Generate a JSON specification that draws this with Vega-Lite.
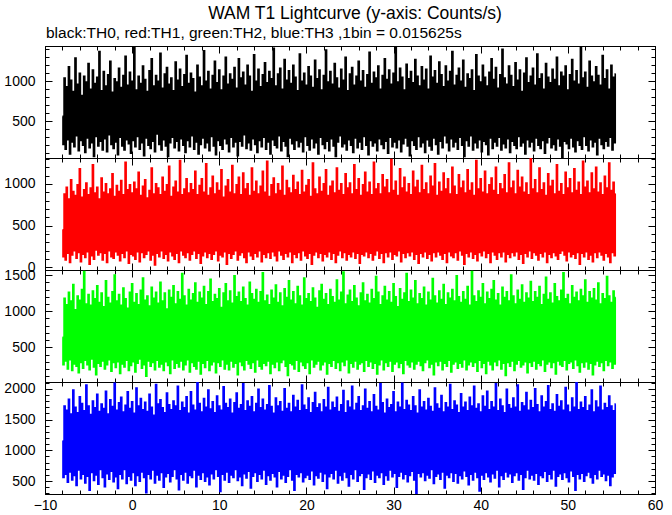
{
"$schema": "https://vega.github.io/schema/vega-lite/v6.json",
"background": "white",
"padding": {"left": 3, "top": 4, "right": 8, "bottom": 0},
"title": {"text": "WAM T1 Lightcurve (y-axis: Counts/s)", "anchor": "middle", "frame": "group", "dx": 5, "fontSize": 17.5, "fontWeight": "normal", "font": "Liberation Sans", "color": "#000000", "offset": 3},
"spacing": 0,
"bounds": "flush",
"datasets": {"lc": [
{"t":-8,"a":560,"b":450,"c":640,"d":1150},
{"t":-7.875,"a":210,"b":130,"c":260,"d":560},
{"t":-7.75,"a":1040,"b":880,"c":1180,"d":1720},
{"t":-7.625,"a":150,"b":90,"c":310,"d":610},
{"t":-7.5,"a":930,"b":960,"c":1090,"d":1650},
{"t":-7.375,"a":270,"b":170,"c":200,"d":480},
{"t":-7.25,"a":1180,"b":820,"c":1260,"d":1830},
{"t":-7.125,"a":90,"b":60,"c":330,"d":650},
{"t":-7,"a":1010,"b":1050,"c":1140,"d":1590},
{"t":-6.875,"a":240,"b":150,"c":180,"d":520},
{"t":-6.75,"a":870,"b":910,"c":1370,"d":1980},
{"t":-6.625,"a":180,"b":200,"c":270,"d":590},
{"t":-6.5,"a":1290,"b":860,"c":1020,"d":1700},
{"t":-6.375,"a":320,"b":110,"c":240,"d":430},
{"t":-6.25,"a":960,"b":990,"c":1210,"d":1610},
{"t":-6.125,"a":130,"b":180,"c":150,"d":680},
{"t":-6,"a":1100,"b":1180,"c":1150,"d":1870},
{"t":-5.875,"a":260,"b":70,"c":290,"d":540},
{"t":-5.75,"a":820,"b":840,"c":1300,"d":1760},
{"t":-5.625,"a":200,"b":160,"c":210,"d":610},
{"t":-5.5,"a":1060,"b":930,"c":1550,"d":1640},
{"t":-5.375,"a":110,"b":120,"c":320,"d":470},
{"t":-5.25,"a":990,"b":1010,"c":1100,"d":2060},
{"t":-5.125,"a":290,"b":190,"c":260,"d":580},
{"t":-5,"a":1220,"b":870,"c":1230,"d":1720},
{"t":-4.875,"a":170,"b":40,"c":190,"d":350},
{"t":-4.75,"a":900,"b":950,"c":1080,"d":1580},
{"t":-4.625,"a":230,"b":140,"c":340,"d":640},
{"t":-4.5,"a":1140,"b":1230,"c":1280,"d":1800},
{"t":-4.375,"a":60,"b":100,"c":230,"d":510},
{"t":-4.25,"a":970,"b":890,"c":1170,"d":1690},
{"t":-4.125,"a":310,"b":210,"c":120,"d":600},
{"t":-4,"a":1050,"b":960,"c":1350,"d":1910},
{"t":-3.875,"a":190,"b":150,"c":280,"d":450},
{"t":-3.75,"a":1370,"b":820,"c":1120,"d":1630},
{"t":-3.625,"a":250,"b":180,"c":240,"d":690},
{"t":-3.5,"a":880,"b":1070,"c":1250,"d":1750},
{"t":-3.375,"a":140,"b":90,"c":310,"d":560},
{"t":-3.25,"a":1120,"b":900,"c":1060,"d":1680},
{"t":-3.125,"a":280,"b":170,"c":200,"d":410},
{"t":-3,"a":940,"b":1000,"c":1420,"d":1960},
{"t":-2.875,"a":120,"b":60,"c":260,"d":620},
{"t":-2.75,"a":1080,"b":880,"c":1190,"d":1590},
{"t":-2.625,"a":330,"b":200,"c":330,"d":530},
{"t":-2.5,"a":1250,"b":940,"c":1110,"d":1820},
{"t":-2.375,"a":210,"b":130,"c":170,"d":660},
{"t":-2.25,"a":860,"b":1120,"c":1270,"d":1710},
{"t":-2.125,"a":160,"b":110,"c":290,"d":490},
{"t":-2,"a":1030,"b":850,"c":1500,"d":2090},
{"t":-1.875,"a":240,"b":190,"c":220,"d":570},
{"t":-1.75,"a":990,"b":980,"c":1140,"d":1650},
{"t":-1.625,"a":80,"b":150,"c":300,"d":380},
{"t":-1.5,"a":1160,"b":910,"c":1230,"d":1770},
{"t":-1.375,"a":300,"b":80,"c":140,"d":610},
{"t":-1.25,"a":920,"b":1040,"c":1080,"d":1860},
{"t":-1.125,"a":190,"b":170,"c":270,"d":540},
{"t":-1,"a":1070,"b":870,"c":1320,"d":1620},
{"t":-0.875,"a":140,"b":120,"c":230,"d":690},
{"t":-0.75,"a":1310,"b":1260,"c":1170,"d":1730},
{"t":-0.625,"a":270,"b":200,"c":320,"d":460},
{"t":-0.5,"a":950,"b":930,"c":1040,"d":1950},
{"t":-0.375,"a":220,"b":50,"c":180,"d":580},
{"t":-0.25,"a":1110,"b":990,"c":1260,"d":1680},
{"t":-0.125,"a":100,"b":160,"c":250,"d":520},
{"t":0,"a":1000,"b":890,"c":1380,"d":1790},
{"t":0.125,"a":260,"b":140,"c":300,"d":640},
{"t":0.25,"a":1420,"b":1020,"c":1120,"d":1600},
{"t":0.375,"a":180,"b":100,"c":160,"d":430},
{"t":0.5,"a":890,"b":940,"c":1240,"d":2010},
{"t":0.625,"a":310,"b":190,"c":280,"d":590},
{"t":0.75,"a":1060,"b":1140,"c":1090,"d":1720},
{"t":0.875,"a":150,"b":70,"c":340,"d":500},
{"t":1,"a":970,"b":860,"c":1290,"d":1840},
{"t":1.125,"a":230,"b":180,"c":210,"d":650},
{"t":1.25,"a":1190,"b":970,"c":1460,"d":1660},
{"t":1.375,"a":70,"b":120,"c":260,"d":560},
{"t":1.5,"a":1020,"b":1050,"c":1150,"d":1780},
{"t":1.625,"a":290,"b":160,"c":100,"d":310},
{"t":1.75,"a":870,"b":830,"c":1210,"d":1630},
{"t":1.875,"a":200,"b":200,"c":310,"d":610},
{"t":2,"a":1130,"b":920,"c":1070,"d":1910},
{"t":2.125,"a":160,"b":90,"c":240,"d":540},
{"t":2.25,"a":1280,"b":1190,"c":1330,"d":1700},
{"t":2.375,"a":250,"b":150,"c":290,"d":680},
{"t":2.5,"a":940,"b":880,"c":1180,"d":1570},
{"t":2.625,"a":120,"b":30,"c":190,"d":470},
{"t":2.75,"a":1070,"b":1000,"c":1260,"d":2070},
{"t":2.875,"a":340,"b":170,"c":320,"d":600},
{"t":3,"a":1000,"b":950,"c":1110,"d":1750},
{"t":3.125,"a":210,"b":130,"c":230,"d":520},
{"t":3.25,"a":1350,"b":870,"c":1400,"d":1820},
{"t":3.375,"a":140,"b":200,"c":270,"d":640},
{"t":3.5,"a":910,"b":1080,"c":1140,"d":1690},
{"t":3.625,"a":270,"b":110,"c":180,"d":400},
{"t":3.75,"a":1090,"b":910,"c":1250,"d":1610},
{"t":3.875,"a":190,"b":160,"c":300,"d":570},
{"t":4,"a":1170,"b":990,"c":1030,"d":1930},
{"t":4.125,"a":60,"b":80,"c":250,"d":630},
{"t":4.25,"a":960,"b":1210,"c":1290,"d":1740},
{"t":4.375,"a":230,"b":190,"c":140,"d":490},
{"t":4.5,"a":1040,"b":850,"c":1190,"d":1660},
{"t":4.625,"a":300,"b":140,"c":330,"d":580},
{"t":4.75,"a":880,"b":960,"c":1350,"d":1800},
{"t":4.875,"a":170,"b":100,"c":210,"d":690},
{"t":5,"a":1240,"b":1030,"c":1100,"d":1720},
{"t":5.125,"a":250,"b":170,"c":280,"d":540},
{"t":5.25,"a":1010,"b":900,"c":1270,"d":2040},
{"t":5.375,"a":130,"b":60,"c":230,"d":360},
{"t":5.5,"a":1150,"b":1280,"c":1160,"d":1640},
{"t":5.625,"a":280,"b":200,"c":310,"d":610},
{"t":5.75,"a":930,"b":870,"c":1520,"d":1780},
{"t":5.875,"a":200,"b":150,"c":190,"d":520},
{"t":6,"a":1080,"b":940,"c":1210,"d":1690},
{"t":6.125,"a":110,"b":120,"c":260,"d":650},
{"t":6.25,"a":1320,"b":1060,"c":1080,"d":1870},
{"t":6.375,"a":260,"b":180,"c":330,"d":470},
{"t":6.5,"a":970,"b":890,"c":1300,"d":1600},
{"t":6.625,"a":180,"b":90,"c":160,"d":590},
{"t":6.75,"a":1100,"b":1000,"c":1150,"d":1950},
{"t":6.875,"a":320,"b":160,"c":290,"d":560},
{"t":7,"a":1030,"b":930,"c":1240,"d":1730},
{"t":7.125,"a":150,"b":200,"c":240,"d":680},
{"t":7.25,"a":860,"b":1150,"c":1390,"d":1650},
{"t":7.375,"a":240,"b":110,"c":200,"d":410},
{"t":7.5,"a":1200,"b":870,"c":1120,"d":2100},
{"t":7.625,"a":90,"b":170,"c":310,"d":600},
{"t":7.75,"a":1050,"b":980,"c":1260,"d":1760},
{"t":7.875,"a":210,"b":50,"c":130,"d":530},
{"t":8,"a":940,"b":1060,"c":1180,"d":1620},
{"t":8.125,"a":290,"b":140,"c":280,"d":640},
{"t":8.25,"a":1380,"b":900,"c":1340,"d":1840},
{"t":8.375,"a":170,"b":190,"c":220,"d":500},
{"t":8.5,"a":1000,"b":1240,"c":1090,"d":1700},
{"t":8.625,"a":230,"b":120,"c":320,"d":570},
{"t":8.75,"a":1120,"b":860,"c":1270,"d":1980},
{"t":8.875,"a":130,"b":170,"c":180,"d":440},
{"t":9,"a":900,"b":950,"c":1440,"d":1670},
{"t":9.125,"a":310,"b":100,"c":260,"d":620},
{"t":9.25,"a":1070,"b":1090,"c":1130,"d":1790},
{"t":9.375,"a":190,"b":160,"c":300,"d":540},
{"t":9.5,"a":1250,"b":880,"c":1230,"d":1610},
{"t":9.625,"a":80,"b":200,"c":150,"d":690},
{"t":9.75,"a":980,"b":1010,"c":1170,"d":1880},
{"t":9.875,"a":260,"b":80,"c":290,"d":580},
{"t":10,"a":1140,"b":920,"c":1310,"d":1720},
{"t":10.125,"a":200,"b":150,"c":240,"d":330},
{"t":10.25,"a":890,"b":1170,"c":1050,"d":1650},
{"t":10.375,"a":150,"b":130,"c":330,"d":610},
{"t":10.5,"a":1060,"b":840,"c":1250,"d":2030},
{"t":10.625,"a":280,"b":190,"c":200,"d":520},
{"t":10.75,"a":1300,"b":970,"c":1380,"d":1760},
{"t":10.875,"a":220,"b":40,"c":270,"d":650},
{"t":11,"a":960,"b":1050,"c":1140,"d":1690},
{"t":11.125,"a":120,"b":170,"c":190,"d":480},
{"t":11.25,"a":1090,"b":900,"c":1280,"d":1830},
{"t":11.375,"a":300,"b":110,"c":310,"d":600},
{"t":11.5,"a":1020,"b":1220,"c":1110,"d":1600},
{"t":11.625,"a":180,"b":160,"c":230,"d":560},
{"t":11.75,"a":1170,"b":880,"c":1490,"d":1770},
{"t":11.875,"a":240,"b":200,"c":280,"d":690},
{"t":12,"a":910,"b":990,"c":1200,"d":1930},
{"t":12.125,"a":70,"b":90,"c":120,"d":510},
{"t":12.25,"a":1280,"b":1080,"c":1260,"d":1680},
{"t":12.375,"a":250,"b":150,"c":300,"d":570},
{"t":12.5,"a":1040,"b":870,"c":1130,"d":1740},
{"t":12.625,"a":190,"b":180,"c":250,"d":430},
{"t":12.75,"a":1110,"b":1130,"c":1330,"d":2080},
{"t":12.875,"a":330,"b":120,"c":190,"d":620},
{"t":13,"a":950,"b":940,"c":1170,"d":1640},
{"t":13.125,"a":160,"b":60,"c":320,"d":550},
{"t":13.25,"a":1200,"b":1000,"c":1080,"d":1800},
{"t":13.375,"a":230,"b":190,"c":270,"d":660},
{"t":13.5,"a":1060,"b":860,"c":1400,"d":1710},
{"t":13.625,"a":140,"b":140,"c":210,"d":390},
{"t":13.75,"a":870,"b":1190,"c":1240,"d":1870},
{"t":13.875,"a":280,"b":100,"c":290,"d":580},
{"t":14,"a":1330,"b":910,"c":1160,"d":1620},
{"t":14.125,"a":210,"b":170,"c":160,"d":640},
{"t":14.25,"a":1000,"b":1030,"c":1300,"d":1760},
{"t":14.375,"a":110,"b":130,"c":330,"d":500},
{"t":14.5,"a":1150,"b":880,"c":1120,"d":1990},
{"t":14.625,"a":260,"b":200,"c":240,"d":610},
{"t":14.75,"a":930,"b":970,"c":1270,"d":1690},
{"t":14.875,"a":180,"b":70,"c":200,"d":540},
{"t":15,"a":1080,"b":1150,"c":1530,"d":1830},
{"t":15.125,"a":300,"b":160,"c":280,"d":680},
{"t":15.25,"a":1230,"b":900,"c":1140,"d":1650},
{"t":15.375,"a":150,"b":120,"c":250,"d":450},
{"t":15.5,"a":980,"b":1270,"c":1220,"d":1740},
{"t":15.625,"a":240,"b":180,"c":310,"d":590},
{"t":15.75,"a":1120,"b":850,"c":1090,"d":2050},
{"t":15.875,"a":90,"b":110,"c":140,"d":520},
{"t":16,"a":1030,"b":990,"c":1290,"d":1710},
{"t":16.125,"a":270,"b":190,"c":270,"d":630},
{"t":16.25,"a":1410,"b":1070,"c":1180,"d":1600},
{"t":16.375,"a":200,"b":140,"c":220,"d":570},
{"t":16.5,"a":940,"b":880,"c":1360,"d":1850},
{"t":16.625,"a":170,"b":80,"c":300,"d":410},
{"t":16.75,"a":1090,"b":1000,"c":1120,"d":1720},
{"t":16.875,"a":320,"b":200,"c":180,"d":660},
{"t":17,"a":1160,"b":920,"c":1250,"d":1790},
{"t":17.125,"a":130,"b":150,"c":290,"d":540},
{"t":17.25,"a":900,"b":1210,"c":1070,"d":1630},
{"t":17.375,"a":250,"b":100,"c":330,"d":600},
{"t":17.5,"a":1270,"b":860,"c":1310,"d":2000},
{"t":17.625,"a":190,"b":170,"c":240,"d":480},
{"t":17.75,"a":1010,"b":1040,"c":1190,"d":1680},
{"t":17.875,"a":60,"b":130,"c":110,"d":580},
{"t":18,"a":1130,"b":950,"c":1420,"d":1760},
{"t":18.125,"a":290,"b":190,"c":280,"d":690},
{"t":18.25,"a":970,"b":890,"c":1150,"d":1620},
{"t":18.375,"a":220,"b":60,"c":260,"d":520},
{"t":18.5,"a":1200,"b":1100,"c":1270,"d":1890},
{"t":18.625,"a":150,"b":160,"c":200,"d":350},
{"t":18.75,"a":1050,"b":930,"c":1100,"d":1700},
{"t":18.875,"a":260,"b":120,"c":320,"d":610},
{"t":19,"a":880,"b":1020,"c":1340,"d":1810},
{"t":19.125,"a":180,"b":180,"c":170,"d":570},
{"t":19.25,"a":1340,"b":870,"c":1210,"d":1640},
{"t":19.375,"a":240,"b":90,"c":300,"d":640},
{"t":19.5,"a":1000,"b":1160,"c":1080,"d":2060},
{"t":19.625,"a":120,"b":200,"c":250,"d":490},
{"t":19.75,"a":1100,"b":900,"c":1460,"d":1730},
{"t":19.875,"a":310,"b":140,"c":210,"d":560},
{"t":20,"a":950,"b":980,"c":1170,"d":1660},
{"t":20.125,"a":200,"b":110,"c":290,"d":600},
{"t":20.25,"a":1180,"b":1050,"c":1240,"d":1850},
{"t":20.375,"a":140,"b":170,"c":140,"d":530},
{"t":20.5,"a":1060,"b":850,"c":1130,"d":1610},
{"t":20.625,"a":280,"b":40,"c":330,"d":670},
{"t":20.75,"a":920,"b":1250,"c":1320,"d":1770},
{"t":20.875,"a":170,"b":150,"c":230,"d":440},
{"t":21,"a":1260,"b":940,"c":1180,"d":1940},
{"t":21.125,"a":230,"b":190,"c":270,"d":590},
{"t":21.25,"a":1030,"b":880,"c":1050,"d":1690},
{"t":21.375,"a":90,"b":120,"c":310,"d":550},
{"t":21.5,"a":1140,"b":1080,"c":1280,"d":1750},
{"t":21.625,"a":300,"b":170,"c":190,"d":650},
{"t":21.75,"a":890,"b":910,"c":1370,"d":1620},
{"t":21.875,"a":210,"b":80,"c":260,"d":500},
{"t":22,"a":1070,"b":1000,"c":1160,"d":1820},
{"t":22.125,"a":160,"b":160,"c":300,"d":620},
{"t":22.25,"a":1390,"b":1170,"c":1240,"d":1700},
{"t":22.375,"a":250,"b":130,"c":130,"d":380},
{"t":22.5,"a":990,"b":860,"c":1090,"d":2020},
{"t":22.625,"a":130,"b":190,"c":280,"d":570},
{"t":22.75,"a":1120,"b":970,"c":1300,"d":1650},
{"t":22.875,"a":280,"b":100,"c":240,"d":630},
{"t":23,"a":960,"b":1030,"c":1200,"d":1780},
{"t":23.125,"a":190,"b":170,"c":320,"d":540},
{"t":23.25,"a":1220,"b":890,"c":1120,"d":1690},
{"t":23.375,"a":60,"b":60,"c":210,"d":680},
{"t":23.5,"a":1040,"b":1190,"c":1430,"d":1860},
{"t":23.625,"a":240,"b":150,"c":290,"d":470},
{"t":23.75,"a":910,"b":920,"c":1150,"d":1630},
{"t":23.875,"a":320,"b":200,"c":180,"d":590},
{"t":24,"a":1150,"b":1000,"c":1260,"d":1740},
{"t":24.125,"a":180,"b":120,"c":300,"d":520},
{"t":24.25,"a":1010,"b":870,"c":1540,"d":1970},
{"t":24.375,"a":220,"b":180,"c":250,"d":650},
{"t":24.5,"a":1300,"b":1120,"c":1100,"d":1610},
{"t":24.625,"a":140,"b":90,"c":330,"d":560},
{"t":24.75,"a":880,"b":950,"c":1220,"d":1800},
{"t":24.875,"a":270,"b":160,"c":150,"d":420},
{"t":25,"a":1090,"b":1010,"c":1290,"d":1700},
{"t":25.125,"a":200,"b":130,"c":280,"d":610},
{"t":25.25,"a":1170,"b":880,"c":1130,"d":2040},
{"t":25.375,"a":110,"b":190,"c":230,"d":540},
{"t":25.5,"a":950,"b":1230,"c":1350,"d":1650},
{"t":25.625,"a":290,"b":110,"c":310,"d":690},
{"t":25.75,"a":1060,"b":930,"c":1180,"d":1760},
{"t":25.875,"a":170,"b":170,"c":200,"d":500},
{"t":26,"a":1250,"b":1060,"c":1070,"d":1870},
{"t":26.125,"a":240,"b":50,"c":270,"d":590},
{"t":26.25,"a":1000,"b":860,"c":1250,"d":1640},
{"t":26.375,"a":150,"b":160,"c":290,"d":630},
{"t":26.5,"a":1130,"b":990,"c":1390,"d":1720},
{"t":26.625,"a":310,"b":140,"c":170,"d":370},
{"t":26.75,"a":920,"b":1140,"c":1140,"d":1990},
{"t":26.875,"a":200,"b":190,"c":320,"d":560},
{"t":27,"a":1080,"b":900,"c":1230,"d":1680},
{"t":27.125,"a":80,"b":120,"c":240,"d":620},
{"t":27.25,"a":1360,"b":1020,"c":1110,"d":1790},
{"t":27.375,"a":260,"b":170,"c":300,"d":530},
{"t":27.5,"a":970,"b":870,"c":1300,"d":1620},
{"t":27.625,"a":190,"b":90,"c":210,"d":670},
{"t":27.75,"a":1110,"b":1260,"c":1170,"d":1900},
{"t":27.875,"a":230,"b":150,"c":280,"d":480},
{"t":28,"a":1040,"b":940,"c":1480,"d":1710},
{"t":28.125,"a":130,"b":200,"c":130,"d":600},
{"t":28.25,"a":1190,"b":1000,"c":1260,"d":1650},
{"t":28.375,"a":280,"b":110,"c":260,"d":560},
{"t":28.5,"a":900,"b":880,"c":1090,"d":2080},
{"t":28.625,"a":210,"b":170,"c":330,"d":640},
{"t":28.75,"a":1070,"b":1110,"c":1210,"d":1770},
{"t":28.875,"a":160,"b":60,"c":190,"d":450},
{"t":29,"a":1280,"b":960,"c":1340,"d":1600},
{"t":29.125,"a":250,"b":180,"c":290,"d":590},
{"t":29.25,"a":1020,"b":1050,"c":1150,"d":1830},
{"t":29.375,"a":100,"b":130,"c":240,"d":520},
{"t":29.5,"a":1140,"b":890,"c":1270,"d":1690},
{"t":29.625,"a":300,"b":190,"c":310,"d":680},
{"t":29.75,"a":960,"b":1290,"c":1120,"d":1740},
{"t":29.875,"a":180,"b":100,"c":170,"d":570},
{"t":30,"a":1100,"b":920,"c":1380,"d":1950},
{"t":30.125,"a":240,"b":160,"c":270,"d":630},
{"t":30.25,"a":1430,"b":1030,"c":1200,"d":1620},
{"t":30.375,"a":170,"b":140,"c":300,"d":400},
{"t":30.5,"a":990,"b":860,"c":1060,"d":1780},
{"t":30.625,"a":270,"b":200,"c":220,"d":580},
{"t":30.75,"a":1160,"b":1180,"c":1310,"d":1700},
{"t":30.875,"a":120,"b":70,"c":280,"d":650},
{"t":31,"a":1050,"b":950,"c":1160,"d":2090},
{"t":31.125,"a":220,"b":170,"c":140,"d":540},
{"t":31.25,"a":890,"b":1080,"c":1250,"d":1660},
{"t":31.375,"a":290,"b":120,"c":320,"d":610},
{"t":31.5,"a":1210,"b":900,"c":1520,"d":1810},
{"t":31.625,"a":190,"b":180,"c":260,"d":490},
{"t":31.75,"a":1030,"b":1000,"c":1130,"d":1730},
{"t":31.875,"a":70,"b":140,"c":230,"d":590},
{"t":32,"a":1120,"b":870,"c":1290,"d":1640},
{"t":32.125,"a":260,"b":190,"c":300,"d":660},
{"t":32.25,"a":980,"b":1150,"c":1180,"d":1870},
{"t":32.375,"a":200,"b":100,"c":200,"d":520},
{"t":32.5,"a":1270,"b":960,"c":1420,"d":1720},
{"t":32.625,"a":150,"b":160,"c":270,"d":300},
{"t":32.75,"a":1060,"b":1040,"c":1100,"d":1600},
{"t":32.875,"a":310,"b":50,"c":310,"d":630},
{"t":33,"a":940,"b":890,"c":1240,"d":1980},
{"t":33.125,"a":180,"b":170,"c":250,"d":570},
{"t":33.25,"a":1180,"b":1220,"c":1170,"d":1700},
{"t":33.375,"a":230,"b":130,"c":180,"d":640},
{"t":33.5,"a":1010,"b":930,"c":1330,"d":1790},
{"t":33.625,"a":110,"b":190,"c":290,"d":510},
{"t":33.75,"a":1150,"b":1010,"c":1080,"d":1650},
{"t":33.875,"a":270,"b":110,"c":330,"d":600},
{"t":34,"a":900,"b":880,"c":1260,"d":1840},
{"t":34.125,"a":190,"b":160,"c":220,"d":550},
{"t":34.25,"a":1310,"b":1090,"c":1150,"d":1710},
{"t":34.375,"a":140,"b":80,"c":270,"d":690},
{"t":34.5,"a":1050,"b":970,"c":1450,"d":1630},
{"t":34.625,"a":290,"b":180,"c":120,"d":460},
{"t":34.75,"a":1130,"b":1240,"c":1210,"d":2010},
{"t":34.875,"a":210,"b":130,"c":300,"d":580},
{"t":35,"a":970,"b":860,"c":1110,"d":1750},
{"t":35.125,"a":90,"b":190,"c":250,"d":620},
{"t":35.25,"a":1240,"b":1020,"c":1280,"d":1680},
{"t":35.375,"a":250,"b":150,"c":310,"d":530},
{"t":35.5,"a":1080,"b":910,"c":1160,"d":1890},
{"t":35.625,"a":170,"b":100,"c":190,"d":650},
{"t":35.75,"a":930,"b":1130,"c":1370,"d":1620},
{"t":35.875,"a":320,"b":170,"c":280,"d":390},
{"t":36,"a":1190,"b":940,"c":1090,"d":1770},
{"t":36.125,"a":230,"b":60,"c":240,"d":600},
{"t":36.25,"a":1000,"b":1060,"c":1250,"d":1700},
{"t":36.375,"a":130,"b":190,"c":320,"d":560},
{"t":36.5,"a":1120,"b":880,"c":1180,"d":2070},
{"t":36.625,"a":280,"b":140,"c":160,"d":640},
{"t":36.75,"a":1370,"b":1200,"c":1300,"d":1660},
{"t":36.875,"a":180,"b":120,"c":270,"d":500},
{"t":37,"a":950,"b":970,"c":1140,"d":1800},
{"t":37.125,"a":240,"b":180,"c":300,"d":630},
{"t":37.25,"a":1070,"b":870,"c":1490,"d":1730},
{"t":37.375,"a":150,"b":90,"c":210,"d":470},
{"t":37.5,"a":1160,"b":1110,"c":1200,"d":1610},
{"t":37.625,"a":300,"b":200,"c":280,"d":590},
{"t":37.75,"a":1000,"b":950,"c":1120,"d":1920},
{"t":37.875,"a":200,"b":150,"c":230,"d":540},
{"t":38,"a":1260,"b":1030,"c":1270,"d":1700},
{"t":38.125,"a":60,"b":40,"c":330,"d":670},
{"t":38.25,"a":920,"b":890,"c":1160,"d":1780},
{"t":38.375,"a":260,"b":170,"c":190,"d":580},
{"t":38.5,"a":1090,"b":1170,"c":1340,"d":1640},
{"t":38.625,"a":190,"b":130,"c":260,"d":440},
{"t":38.75,"a":1030,"b":920,"c":1080,"d":1860},
{"t":38.875,"a":320,"b":190,"c":300,"d":610},
{"t":39,"a":1140,"b":1010,"c":1550,"d":1720},
{"t":39.125,"a":140,"b":110,"c":240,"d":520},
{"t":39.25,"a":880,"b":860,"c":1210,"d":2040},
{"t":39.375,"a":230,"b":160,"c":290,"d":650},
{"t":39.5,"a":1330,"b":1280,"c":1130,"d":1680},
{"t":39.625,"a":170,"b":80,"c":170,"d":560},
{"t":39.75,"a":1060,"b":940,"c":1280,"d":1750},
{"t":39.875,"a":270,"b":180,"c":320,"d":340},
{"t":40,"a":990,"b":1060,"c":1190,"d":1620},
{"t":40.125,"a":120,"b":140,"c":220,"d":600},
{"t":40.25,"a":1200,"b":900,"c":1380,"d":1880},
{"t":40.375,"a":250,"b":200,"c":280,"d":530},
{"t":40.5,"a":1050,"b":1150,"c":1100,"d":1710},
{"t":40.625,"a":210,"b":120,"c":140,"d":640},
{"t":40.75,"a":940,"b":880,"c":1260,"d":1960},
{"t":40.875,"a":80,"b":170,"c":310,"d":570},
{"t":41,"a":1110,"b":990,"c":1170,"d":1660},
{"t":41.125,"a":290,"b":60,"c":260,"d":490},
{"t":41.25,"a":1280,"b":1070,"c":1300,"d":1790},
{"t":41.375,"a":160,"b":190,"c":190,"d":620},
{"t":41.5,"a":1020,"b":920,"c":1420,"d":1700},
{"t":41.625,"a":240,"b":150,"c":300,"d":550},
{"t":41.75,"a":1170,"b":1200,"c":1150,"d":2080},
{"t":41.875,"a":190,"b":100,"c":250,"d":680},
{"t":42,"a":910,"b":870,"c":1240,"d":1640},
{"t":42.125,"a":300,"b":180,"c":330,"d":410},
{"t":42.25,"a":1080,"b":1000,"c":1080,"d":1830},
{"t":42.375,"a":140,"b":130,"c":200,"d":590},
{"t":42.5,"a":1400,"b":940,"c":1330,"d":1720},
{"t":42.625,"a":220,"b":190,"c":280,"d":530},
{"t":42.75,"a":1040,"b":1110,"c":1190,"d":1610},
{"t":42.875,"a":170,"b":70,"c":110,"d":650},
{"t":43,"a":960,"b":890,"c":1270,"d":1990},
{"t":43.125,"a":280,"b":160,"c":290,"d":570},
{"t":43.25,"a":1190,"b":1250,"c":1140,"d":1740},
{"t":43.375,"a":110,"b":120,"c":240,"d":620},
{"t":43.5,"a":1070,"b":950,"c":1500,"d":1680},
{"t":43.625,"a":250,"b":180,"c":310,"d":480},
{"t":43.75,"a":930,"b":1030,"c":1210,"d":1850},
{"t":43.875,"a":200,"b":140,"c":180,"d":590},
{"t":44,"a":1230,"b":880,"c":1100,"d":1700},
{"t":44.125,"a":160,"b":190,"c":270,"d":640},
{"t":44.25,"a":1010,"b":1160,"c":1290,"d":2060},
{"t":44.375,"a":310,"b":100,"c":320,"d":520},
{"t":44.5,"a":1140,"b":960,"c":1160,"d":1630},
{"t":44.625,"a":190,"b":160,"c":230,"d":610},
{"t":44.75,"a":870,"b":1080,"c":1360,"d":1770},
{"t":44.875,"a":230,"b":50,"c":260,"d":370},
{"t":45,"a":1100,"b":900,"c":1120,"d":1720},
{"t":45.125,"a":90,"b":170,"c":300,"d":560},
{"t":45.25,"a":1290,"b":1010,"c":1250,"d":1940},
{"t":45.375,"a":270,"b":130,"c":150,"d":680},
{"t":45.5,"a":980,"b":870,"c":1180,"d":1650},
{"t":45.625,"a":180,"b":200,"c":290,"d":540},
{"t":45.75,"a":1060,"b":1300,"c":1410,"d":1810},
{"t":45.875,"a":240,"b":110,"c":240,"d":600},
{"t":46,"a":1160,"b":940,"c":1130,"d":1690},
{"t":46.125,"a":130,"b":180,"c":310,"d":520},
{"t":46.25,"a":950,"b":1050,"c":1270,"d":2000},
{"t":46.375,"a":290,"b":150,"c":200,"d":630},
{"t":46.5,"a":1340,"b":890,"c":1190,"d":1740},
{"t":46.625,"a":200,"b":90,"c":280,"d":450},
{"t":46.75,"a":1030,"b":1190,"c":1340,"d":1620},
{"t":46.875,"a":160,"b":170,"c":250,"d":590},
{"t":47,"a":1090,"b":930,"c":1090,"d":1880},
{"t":47.125,"a":260,"b":130,"c":330,"d":560},
{"t":47.25,"a":900,"b":1010,"c":1230,"d":1700},
{"t":47.375,"a":100,"b":190,"c":170,"d":660},
{"t":47.5,"a":1220,"b":860,"c":1470,"d":1790},
{"t":47.625,"a":230,"b":60,"c":270,"d":500},
{"t":47.75,"a":1050,"b":1120,"c":1160,"d":2050},
{"t":47.875,"a":300,"b":160,"c":300,"d":610},
{"t":48,"a":980,"b":970,"c":1250,"d":1660},
{"t":48.125,"a":170,"b":120,"c":220,"d":540},
{"t":48.25,"a":1150,"b":1040,"c":1110,"d":1750},
{"t":48.375,"a":210,"b":180,"c":290,"d":680},
{"t":48.5,"a":1020,"b":880,"c":1380,"d":1630},
{"t":48.625,"a":140,"b":140,"c":130,"d":420},
{"t":48.75,"a":1300,"b":1230,"c":1200,"d":1900},
{"t":48.875,"a":280,"b":100,"c":310,"d":580},
{"t":49,"a":940,"b":910,"c":1140,"d":1710},
{"t":49.125,"a":190,"b":170,"c":260,"d":620},
{"t":49.25,"a":1110,"b":1000,"c":1290,"d":1800},
{"t":49.375,"a":50,"b":200,"c":240,"d":530},
{"t":49.5,"a":1060,"b":870,"c":1530,"d":1650},
{"t":49.625,"a":250,"b":150,"c":320,"d":640},
{"t":49.75,"a":1190,"b":1140,"c":1170,"d":2020},
{"t":49.875,"a":220,"b":80,"c":190,"d":560},
{"t":50,"a":890,"b":950,"c":1230,"d":1730},
{"t":50.125,"a":160,"b":190,"c":280,"d":490},
{"t":50.25,"a":1080,"b":1060,"c":1100,"d":1620},
{"t":50.375,"a":290,"b":130,"c":300,"d":670},
{"t":50.5,"a":1270,"b":890,"c":1350,"d":1850},
{"t":50.625,"a":180,"b":160,"c":210,"d":580},
{"t":50.75,"a":1000,"b":1180,"c":1190,"d":1700},
{"t":50.875,"a":120,"b":110,"c":330,"d":350},
{"t":51,"a":1130,"b":920,"c":1260,"d":2100},
{"t":51.125,"a":260,"b":180,"c":250,"d":610},
{"t":51.25,"a":960,"b":1020,"c":1140,"d":1660},
{"t":51.375,"a":200,"b":40,"c":160,"d":540},
{"t":51.5,"a":1420,"b":870,"c":1300,"d":1780},
{"t":51.625,"a":150,"b":170,"c":290,"d":630},
{"t":51.75,"a":1040,"b":1270,"c":1210,"d":1690},
{"t":51.875,"a":310,"b":130,"c":230,"d":500},
{"t":52,"a":1110,"b":960,"c":1430,"d":1870},
{"t":52.125,"a":200,"b":190,"c":300,"d":590},
{"t":52.25,"a":920,"b":1030,"c":1120,"d":1640},
{"t":52.375,"a":130,"b":100,"c":200,"d":650},
{"t":52.5,"a":1250,"b":890,"c":1270,"d":1730},
{"t":52.625,"a":270,"b":150,"c":280,"d":560},
{"t":52.75,"a":1060,"b":1130,"c":1180,"d":1980},
{"t":52.875,"a":180,"b":70,"c":120,"d":470},
{"t":53,"a":990,"b":940,"c":1310,"d":1620},
{"t":53.125,"a":240,"b":180,"c":260,"d":610},
{"t":53.25,"a":1180,"b":1200,"c":1150,"d":1800},
{"t":53.375,"a":80,"b":120,"c":310,"d":540},
{"t":53.5,"a":1070,"b":900,"c":1390,"d":1700},
{"t":53.625,"a":290,"b":190,"c":240,"d":680},
{"t":53.75,"a":950,"b":1010,"c":1100,"d":2040},
{"t":53.875,"a":210,"b":150,"c":290,"d":580},
{"t":54,"a":1320,"b":870,"c":1240,"d":1650},
{"t":54.125,"a":160,"b":90,"c":180,"d":620},
{"t":54.25,"a":1030,"b":1090,"c":1170,"d":1760},
{"t":54.375,"a":250,"b":170,"c":320,"d":510},
{"t":54.5,"a":1140,"b":950,"c":1480,"d":1690},
{"t":54.625,"a":190,"b":130,"c":250,"d":600},
{"t":54.75,"a":900,"b":1250,"c":1210,"d":1880},
{"t":54.875,"a":300,"b":60,"c":300,"d":430},
{"t":55,"a":1200,"b":920,"c":1120,"d":1720},
{"t":55.125,"a":140,"b":180,"c":210,"d":570},
{"t":55.25,"a":1050,"b":1020,"c":1280,"d":1640},
{"t":55.375,"a":230,"b":140,"c":270,"d":630},
{"t":55.5,"a":1090,"b":880,"c":1190,"d":1750}
]},
"vconcat": [
{
 "width": 610, "height": 112,
 "data": {"name": "lc"},
 "title": {"text": "black:TH0, red:TH1, green:TH2, blue:TH3 ,1bin = 0.015625s", "anchor": "start", "frame": "group", "dx": 1, "fontSize": 15.5, "fontWeight": "normal", "font": "Liberation Sans", "color": "#000000", "offset": 1},
 "layer": [
  {"mark": {"type": "line", "interpolate": "step", "color": "#000000", "strokeWidth": 1.6, "clip": true},
   "encoding": {
    "x": {"field": "t", "type": "quantitative", "scale": {"domain": [-10, 60], "nice": false, "zero": false},
          "axis": {"orient": "bottom", "title": null, "labels": false, "values": [-10,-8,-6,-4,-2,0,2,4,6,8,10,12,14,16,18,20,22,24,26,28,30,32,34,36,38,40,42,44,46,48,50,52,54,56,58,60],
                   "tickSize": {"condition": {"test": "datum.value % 10 === 0", "value": -7}, "value": -4}}},
    "y": {"field": "a", "type": "quantitative", "scale": {"domain": [40, 1440], "nice": false, "zero": false},
          "axis": {"orient": "left", "title": null, "format": "d", "values": [100,200,300,400,500,600,700,800,900,1000,1100,1200,1300,1400],
                   "labelExpr": "datum.value % 500 === 0 ? datum.label : ''",
                   "tickSize": {"condition": {"test": "datum.value % 500 === 0", "value": -7}, "value": -4}}}
   }},
  {"mark": {"type": "line", "opacity": 0},
   "encoding": {
    "x": {"field": "t", "type": "quantitative", "scale": {"domain": [-10, 60], "nice": false, "zero": false},
          "axis": {"orient": "top", "title": null, "labels": false, "values": [-10,-8,-6,-4,-2,0,2,4,6,8,10,12,14,16,18,20,22,24,26,28,30,32,34,36,38,40,42,44,46,48,50,52,54,56,58,60],
                   "tickSize": {"condition": {"test": "datum.value % 10 === 0", "value": -7}, "value": -4}}},
    "y": {"field": "a", "type": "quantitative", "scale": {"domain": [40, 1440], "nice": false, "zero": false},
          "axis": {"orient": "right", "title": null, "labels": false, "values": [100,200,300,400,500,600,700,800,900,1000,1100,1200,1300,1400],
                   "tickSize": {"condition": {"test": "datum.value % 500 === 0", "value": -7}, "value": -4}}}
   }}
 ],
 "resolve": {"axis": {"x": "independent", "y": "independent"}}
},
{
 "width": 610, "height": 112,
 "data": {"name": "lc"},
 "layer": [
  {"mark": {"type": "line", "interpolate": "step", "color": "#ff0000", "strokeWidth": 1.6, "clip": true},
   "encoding": {
    "x": {"field": "t", "type": "quantitative", "scale": {"domain": [-10, 60], "nice": false, "zero": false},
          "axis": {"orient": "bottom", "title": null, "labels": false, "values": [-10,-8,-6,-4,-2,0,2,4,6,8,10,12,14,16,18,20,22,24,26,28,30,32,34,36,38,40,42,44,46,48,50,52,54,56,58,60],
                   "tickSize": {"condition": {"test": "datum.value % 10 === 0", "value": -7}, "value": -4}}},
    "y": {"field": "b", "type": "quantitative", "scale": {"domain": [-30, 1310], "nice": false, "zero": false},
          "axis": {"orient": "left", "title": null, "format": "d", "values": [0,100,200,300,400,500,600,700,800,900,1000,1100,1200,1300],
                   "labelExpr": "datum.value % 500 === 0 ? datum.label : ''",
                   "tickSize": {"condition": {"test": "datum.value % 500 === 0", "value": -7}, "value": -4}}}
   }},
  {"mark": {"type": "line", "opacity": 0},
   "encoding": {
    "x": {"field": "t", "type": "quantitative", "scale": {"domain": [-10, 60], "nice": false, "zero": false},
          "axis": {"orient": "top", "title": null, "labels": false, "values": [-10,-8,-6,-4,-2,0,2,4,6,8,10,12,14,16,18,20,22,24,26,28,30,32,34,36,38,40,42,44,46,48,50,52,54,56,58,60],
                   "tickSize": {"condition": {"test": "datum.value % 10 === 0", "value": -7}, "value": -4}}},
    "y": {"field": "b", "type": "quantitative", "scale": {"domain": [-30, 1310], "nice": false, "zero": false},
          "axis": {"orient": "right", "title": null, "labels": false, "values": [0,100,200,300,400,500,600,700,800,900,1000,1100,1200,1300],
                   "tickSize": {"condition": {"test": "datum.value % 500 === 0", "value": -7}, "value": -4}}}
   }}
 ],
 "resolve": {"axis": {"x": "independent", "y": "independent"}}
},
{
 "width": 610, "height": 112,
 "data": {"name": "lc"},
 "layer": [
  {"mark": {"type": "line", "interpolate": "step", "color": "#00ff00", "strokeWidth": 1.6, "clip": true},
   "encoding": {
    "x": {"field": "t", "type": "quantitative", "scale": {"domain": [-10, 60], "nice": false, "zero": false},
          "axis": {"orient": "bottom", "title": null, "labels": false, "values": [-10,-8,-6,-4,-2,0,2,4,6,8,10,12,14,16,18,20,22,24,26,28,30,32,34,36,38,40,42,44,46,48,50,52,54,56,58,60],
                   "tickSize": {"condition": {"test": "datum.value % 10 === 0", "value": -7}, "value": -4}}},
    "y": {"field": "c", "type": "quantitative", "scale": {"domain": [20, 1570], "nice": false, "zero": false},
          "axis": {"orient": "left", "title": null, "format": "d", "values": [100,200,300,400,500,600,700,800,900,1000,1100,1200,1300,1400,1500],
                   "labelExpr": "datum.value % 500 === 0 ? datum.label : ''",
                   "tickSize": {"condition": {"test": "datum.value % 500 === 0", "value": -7}, "value": -4}}}
   }},
  {"mark": {"type": "line", "opacity": 0},
   "encoding": {
    "x": {"field": "t", "type": "quantitative", "scale": {"domain": [-10, 60], "nice": false, "zero": false},
          "axis": {"orient": "top", "title": null, "labels": false, "values": [-10,-8,-6,-4,-2,0,2,4,6,8,10,12,14,16,18,20,22,24,26,28,30,32,34,36,38,40,42,44,46,48,50,52,54,56,58,60],
                   "tickSize": {"condition": {"test": "datum.value % 10 === 0", "value": -7}, "value": -4}}},
    "y": {"field": "c", "type": "quantitative", "scale": {"domain": [20, 1570], "nice": false, "zero": false},
          "axis": {"orient": "right", "title": null, "labels": false, "values": [100,200,300,400,500,600,700,800,900,1000,1100,1200,1300,1400,1500],
                   "tickSize": {"condition": {"test": "datum.value % 500 === 0", "value": -7}, "value": -4}}}
   }}
 ],
 "resolve": {"axis": {"x": "independent", "y": "independent"}}
},
{
 "width": 610, "height": 112,
 "data": {"name": "lc"},
 "layer": [
  {"mark": {"type": "line", "interpolate": "step", "color": "#0000ff", "strokeWidth": 1.6, "clip": true},
   "encoding": {
    "x": {"field": "t", "type": "quantitative", "scale": {"domain": [-10, 60], "nice": false, "zero": false},
          "axis": {"orient": "bottom", "title": null, "format": "d", "labelPadding": 11, "values": [-10,-8,-6,-4,-2,0,2,4,6,8,10,12,14,16,18,20,22,24,26,28,30,32,34,36,38,40,42,44,46,48,50,52,54,56,58,60],
                   "labelExpr": "datum.value % 10 === 0 ? datum.label : ''",
                   "tickSize": {"condition": {"test": "datum.value % 10 === 0", "value": -7}, "value": -4}}},
    "y": {"field": "d", "type": "quantitative", "scale": {"domain": [290, 2110], "nice": false, "zero": false},
          "axis": {"orient": "left", "title": null, "format": "d", "values": [300,400,500,600,700,800,900,1000,1100,1200,1300,1400,1500,1600,1700,1800,1900,2000,2100],
                   "labelExpr": "datum.value % 500 === 0 ? datum.label : ''",
                   "tickSize": {"condition": {"test": "datum.value % 500 === 0", "value": -7}, "value": -4}}}
   }},
  {"mark": {"type": "line", "opacity": 0},
   "encoding": {
    "x": {"field": "t", "type": "quantitative", "scale": {"domain": [-10, 60], "nice": false, "zero": false},
          "axis": {"orient": "top", "title": null, "labels": false, "values": [-10,-8,-6,-4,-2,0,2,4,6,8,10,12,14,16,18,20,22,24,26,28,30,32,34,36,38,40,42,44,46,48,50,52,54,56,58,60],
                   "tickSize": {"condition": {"test": "datum.value % 10 === 0", "value": -7}, "value": -4}}},
    "y": {"field": "d", "type": "quantitative", "scale": {"domain": [290, 2110], "nice": false, "zero": false},
          "axis": {"orient": "right", "title": null, "labels": false, "values": [300,400,500,600,700,800,900,1000,1100,1200,1300,1400,1500,1600,1700,1800,1900,2000,2100],
                   "tickSize": {"condition": {"test": "datum.value % 500 === 0", "value": -7}, "value": -4}}}
   }}
 ],
 "resolve": {"axis": {"x": "independent", "y": "independent"}}
}
],
"config": {
 "font": "Liberation Sans",
 "view": {"stroke": "#000000", "strokeWidth": 1},
 "axis": {"grid": false, "domainColor": "#000000", "tickColor": "#000000", "labelColor": "#000000", "labelFont": "Liberation Sans", "labelFontSize": 14, "labelOverlap": false, "labelBound": false, "labelFlush": false, "labelPadding": 17, "domainWidth": 1, "tickWidth": 1}
}
}
